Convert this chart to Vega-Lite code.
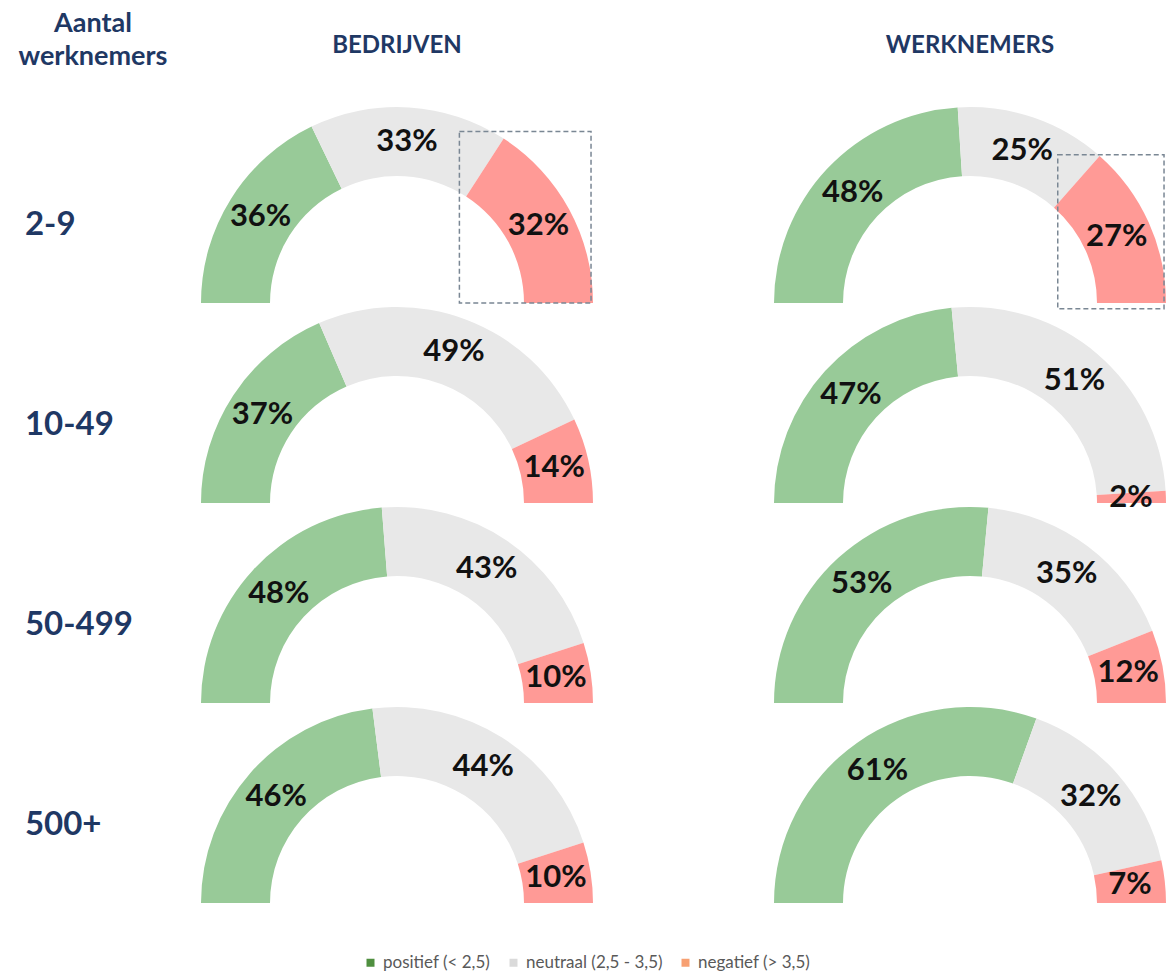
{
  "$schema": "https://vega.github.io/schema/vega-lite/v6.json",
  "padding": {"left": 18, "top": 10, "right": 0, "bottom": 0},
  "background": "white",
  "bounds": "flush",
  "title": {
    "text": ["Aantal", "werknemers"],
    "anchor": "start",
    "frame": "bounds",
    "align": "center",
    "dx": 68,
    "offset": -37,
    "font": "Lato",
    "fontSize": 27,
    "fontWeight": "bold",
    "color": "#1f3864",
    "lineHeight": 33
  },
  "data": {
    "values": [
      {"groep": "BEDRIJVEN", "grootte": "2-9", "categorie": "positief (< 2,5)", "waarde": 0.36},
      {"groep": "BEDRIJVEN", "grootte": "2-9", "categorie": "neutraal (2,5 - 3,5)", "waarde": 0.33},
      {"groep": "BEDRIJVEN", "grootte": "2-9", "categorie": "negatief (> 3,5)", "waarde": 0.32},
      {"groep": "BEDRIJVEN", "grootte": "10-49", "categorie": "positief (< 2,5)", "waarde": 0.37},
      {"groep": "BEDRIJVEN", "grootte": "10-49", "categorie": "neutraal (2,5 - 3,5)", "waarde": 0.49},
      {"groep": "BEDRIJVEN", "grootte": "10-49", "categorie": "negatief (> 3,5)", "waarde": 0.14},
      {"groep": "BEDRIJVEN", "grootte": "50-499", "categorie": "positief (< 2,5)", "waarde": 0.48},
      {"groep": "BEDRIJVEN", "grootte": "50-499", "categorie": "neutraal (2,5 - 3,5)", "waarde": 0.43},
      {"groep": "BEDRIJVEN", "grootte": "50-499", "categorie": "negatief (> 3,5)", "waarde": 0.10},
      {"groep": "BEDRIJVEN", "grootte": "500+", "categorie": "positief (< 2,5)", "waarde": 0.46},
      {"groep": "BEDRIJVEN", "grootte": "500+", "categorie": "neutraal (2,5 - 3,5)", "waarde": 0.44},
      {"groep": "BEDRIJVEN", "grootte": "500+", "categorie": "negatief (> 3,5)", "waarde": 0.10},
      {"groep": "WERKNEMERS", "grootte": "2-9", "categorie": "positief (< 2,5)", "waarde": 0.48},
      {"groep": "WERKNEMERS", "grootte": "2-9", "categorie": "neutraal (2,5 - 3,5)", "waarde": 0.25},
      {"groep": "WERKNEMERS", "grootte": "2-9", "categorie": "negatief (> 3,5)", "waarde": 0.27},
      {"groep": "WERKNEMERS", "grootte": "10-49", "categorie": "positief (< 2,5)", "waarde": 0.47},
      {"groep": "WERKNEMERS", "grootte": "10-49", "categorie": "neutraal (2,5 - 3,5)", "waarde": 0.51},
      {"groep": "WERKNEMERS", "grootte": "10-49", "categorie": "negatief (> 3,5)", "waarde": 0.02},
      {"groep": "WERKNEMERS", "grootte": "50-499", "categorie": "positief (< 2,5)", "waarde": 0.53},
      {"groep": "WERKNEMERS", "grootte": "50-499", "categorie": "neutraal (2,5 - 3,5)", "waarde": 0.35},
      {"groep": "WERKNEMERS", "grootte": "50-499", "categorie": "negatief (> 3,5)", "waarde": 0.12},
      {"groep": "WERKNEMERS", "grootte": "500+", "categorie": "positief (< 2,5)", "waarde": 0.61},
      {"groep": "WERKNEMERS", "grootte": "500+", "categorie": "neutraal (2,5 - 3,5)", "waarde": 0.32},
      {"groep": "WERKNEMERS", "grootte": "500+", "categorie": "negatief (> 3,5)", "waarde": 0.07}
    ]
  },
  "facet": {
    "row": {
      "field": "grootte",
      "type": "nominal",
      "sort": ["2-9", "10-49", "50-499", "500+"],
      "title": null,
      "header": {"labels": false}
    },
    "column": {
      "field": "groep",
      "type": "nominal",
      "sort": ["BEDRIJVEN", "WERKNEMERS"],
      "title": null,
      "header": {
        "labelFont": "Lato",
        "labelFontSize": 24,
        "labelFontWeight": "bold",
        "labelColor": "#1f3864",
        "labelPadding": 45
      }
    }
  },
  "spacing": {"row": 0, "column": 183},
  "spec": {
    "width": 390,
    "height": 200,
    "layer": [
      {
        "mark": {"type": "arc", "outerRadius": 196, "innerRadius": 127, "y": {"expr": "child_height"}},
        "encoding": {
          "theta": {"field": "waarde", "type": "quantitative", "stack": "normalize", "scale": {"range": [-1.5707963, 1.5707963]}},
          "fill": {
            "field": "categorie",
            "type": "nominal",
            "scale": {"domain": ["negatief (> 3,5)", "neutraal (2,5 - 3,5)", "positief (< 2,5)"], "range": ["#ff9a96", "#e8e8e8", "#98ca98"]},
            "legend": null
          },
          "order": {"field": "categorie", "type": "ordinal", "sort": "descending"}
        }
      },
      {
        "mark": {"type": "text", "radius": 161, "y": {"expr": "child_height"}, "font": "Lato", "fontSize": 31, "fontWeight": "bold", "color": "#111111"},
        "encoding": {
          "theta": {"field": "waarde", "type": "quantitative", "stack": "normalize"},
          "detail": {"field": "categorie", "type": "nominal"},
          "order": {"field": "categorie", "type": "ordinal", "sort": "descending"},
          "text": {"field": "waarde", "type": "quantitative", "format": ".0%"}
        }
      },
      {
        "transform": [{"filter": "datum.grootte == '2-9' && datum.groep == 'BEDRIJVEN' && indexof(datum.categorie, 'negatief') == 0"}],
        "mark": {"type": "rect", "filled": false, "stroke": "#7a8794", "strokeWidth": 1.5, "strokeDash": [5, 3]},
        "encoding": {
          "x": {"datum": 0.32, "type": "quantitative", "scale": {"domain": [-1, 1], "nice": false, "zero": false}, "axis": null},
          "x2": {"datum": 0.995},
          "y": {"datum": 0.0, "type": "quantitative", "scale": {"domain": [0, 1.0256], "nice": false}, "axis": null},
          "y2": {"datum": 0.88}
        }
      },
      {
        "transform": [{"filter": "datum.grootte == '2-9' && datum.groep == 'WERKNEMERS' && indexof(datum.categorie, 'negatief') == 0"}],
        "mark": {"type": "rect", "filled": false, "stroke": "#7a8794", "strokeWidth": 1.5, "strokeDash": [5, 3]},
        "encoding": {
          "x": {"datum": 0.45, "type": "quantitative"},
          "x2": {"datum": 0.995},
          "y": {"datum": -0.03, "type": "quantitative"},
          "y2": {"datum": 0.76}
        }
      },
      {
        "transform": [{"filter": "datum.groep == 'BEDRIJVEN' && indexof(datum.categorie, 'positief') == 0"}],
        "mark": {"type": "text", "align": "left", "baseline": "middle", "font": "Lato", "fontSize": 33, "fontWeight": "bold", "color": "#1f3864"},
        "encoding": {
          "x": {"datum": -1.908, "type": "quantitative"},
          "y": {"datum": 0.4, "type": "quantitative"},
          "text": {"field": "grootte", "type": "nominal"}
        }
      },
      {
        "mark": {"type": "square", "size": 0},
        "encoding": {
          "color": {
            "field": "categorie",
            "type": "nominal",
            "scale": {"domain": ["positief (< 2,5)", "neutraal (2,5 - 3,5)", "negatief (> 3,5)"], "range": ["#4f8f3f", "#dadada", "#f7a072"]},
            "legend": {"title": null, "orient": "none", "legendX": 160, "legendY": 851, "direction": "horizontal", "symbolSize": 64, "symbolOpacity": 1}
          }
        }
      }
    ]
  },
  "config": {
    "view": {"stroke": null},
    "font": "Lato",
    "legend": {
      "labelFont": "Lato",
      "labelFontSize": 17,
      "labelColor": "#595959",
      "symbolType": "square",
      "symbolSize": 64,
      "symbolStrokeWidth": 0,
      "columnPadding": 14
    }
  }
}
